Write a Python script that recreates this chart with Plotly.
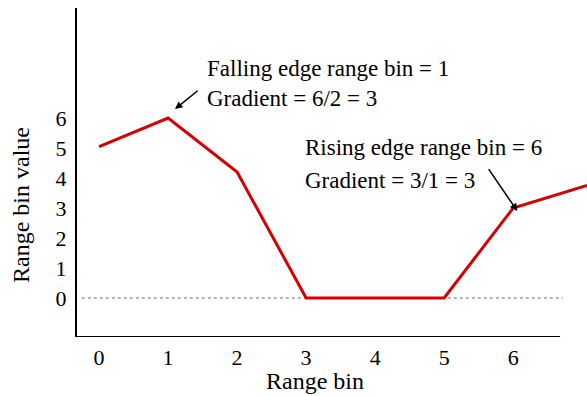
import plotly.graph_objects as go

# Range-bin profile
range_bins = [0, 1, 2, 3, 4, 5, 6, 7.07]
bin_values = [5.05, 6, 4.2, 0, 0, 0, 3, 3.75]

x_ticks = [0, 1, 2, 3, 4, 5, 6]
y_ticks = [0, 1, 2, 3, 4, 5, 6]

FONT = "Liberation Serif"
TEXT_SIZE = 23
fig = go.Figure()

# dotted zero baseline
fig.add_shape(type="line", x0=-0.25, x1=6.72, y0=0, y1=0,
              line=dict(color="#9a9a9a", width=1.5, dash="dot"), layer="below")
# bottom axis line (shorter than plot width)
fig.add_shape(type="line", x0=-0.32, x1=6.68, y0=-1.3, y1=-1.3,
              line=dict(color="black", width=2))

fig.add_trace(go.Scatter(x=range_bins, y=bin_values, mode="lines",
                         line=dict(color="#d40000", width=3), cliponaxis=True))

# annotations with arrows
fig.add_annotation(x=1.1, y=6.3, ax=1.45, ay=6.95, xref="x", yref="y",
                   axref="x", ayref="y", showarrow=True, arrowhead=2,
                   arrowsize=1, arrowwidth=1.5, arrowcolor="black", text="")
fig.add_annotation(x=6.06, y=2.9, ax=5.63, ay=4.35, xref="x", yref="y",
                   axref="x", ayref="y", showarrow=True, arrowhead=2,
                   arrowsize=1, arrowwidth=1.5, arrowcolor="black", text="")

W, H = 587, 396
L, R, T, B = 77, 0, 8, 59

# (pixel x, pixel y, text, size, angle)
labels = [
    (205, 68, "Falling edge range bin = 1", TEXT_SIZE, 0, "left"),
    (205, 98, "Gradient = 6/2 = 3", TEXT_SIZE, 0, "left"),
    (303, 148, "Rising edge range bin = 6", TEXT_SIZE, 0, "left"),
    (303, 180, "Gradient = 3/1 = 3", TEXT_SIZE, 0, "left"),
    (315, 381, "Range bin", 24, 0, "center"),
    (21, 205, "Range bin value", 24, -90, "center"),
]
for px, py, txt, size, ang, anchor in labels:
    fig.add_annotation(x=(px - L) / (W - L - R),
                       y=(H - py - B) / (H - T - B),
                       xref="paper", yref="paper", text=txt, showarrow=False,
                       xanchor=anchor, yanchor="middle", textangle=ang,
                       font=dict(family=FONT, size=size, color="black"))

fig.update_layout(
    width=W, height=H, margin=dict(l=L, r=R, t=T, b=B),
    paper_bgcolor="white", plot_bgcolor="white", showlegend=False,
    font=dict(family=FONT, size=22, color="black"),
    xaxis=dict(range=[-0.32, 7.07], tickvals=x_ticks, showgrid=False,
               zeroline=False, showline=False, ticks="",
               ticklabelstandoff=5, tickfont=dict(size=22)),
    yaxis=dict(range=[-1.3, 9.67], tickvals=y_ticks, showgrid=False,
               zeroline=False, showline=True, linecolor="black", linewidth=2,
               ticks="", ticklabelstandoff=4, tickfont=dict(size=22)),
)

fig.write_html("out.html")
